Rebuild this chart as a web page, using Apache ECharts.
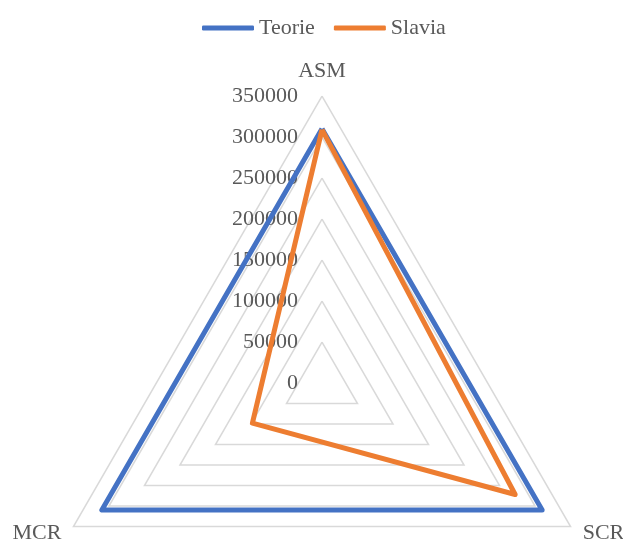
<!DOCTYPE html>
<html>
<head>
<meta charset="utf-8">
<script src="https://cdn.jsdelivr.net/npm/echarts@6/dist/echarts.min.js"></script>
<style>
html,body{margin:0;padding:0;background:#fff;}
#chart{width:623px;height:539px;}
</style>
</head>
<body>
<div id="chart"></div>
<script>
// Indicators listed counter-clockwise starting at the top (ECharts order)
const indicators = ['ASM', 'MCR', 'SCR'];
const teorie = [310000, 310000, 310000];
const slavia = [309000, 98000, 272000];
const seriesNames = ['Teorie', 'Slavia'];
const axisMax = 350000;
const axisSplits = 7;

const chart = echarts.init(document.getElementById('chart'), null, {renderer: 'canvas'});
const font = '"Liberation Serif", "Times New Roman", serif';
chart.setOption({
  backgroundColor: '#ffffff',
  animation: false,
  legend: {
    data: seriesNames,
    left: 197,
    top: 12,
    icon: 'roundRect',
    itemWidth: 52,
    itemHeight: 5,
    itemGap: 19,
    textStyle: {fontFamily: font, fontSize: 22, color: '#595959'}
  },
  radar: {
    center: [322, 383],
    radius: 287,
    startAngle: 90,
    shape: 'polygon',
    splitNumber: axisSplits,
    indicator: indicators.map((n, i) => i === 0
      ? {name: n, min: 0, max: axisMax}
      : {name: n, min: 0, max: axisMax, axisLabel: {show: false}}),
    axisName: {fontFamily: font, fontSize: 22, color: '#595959'},
    nameGap: 14,
    axisLine: {show: false},
    axisTick: {show: false},
    splitArea: {show: false},
    splitLine: {lineStyle: {color: '#D9D9D9', width: 1.5}},
    axisLabel: {show: true, fontFamily: font, fontSize: 22, color: '#595959', margin: 24,
      showMaxLabel: true, showMinLabel: true, formatter: v => String(v)}
  },
  series: [{
    type: 'radar',
    symbol: 'none',
    data: [
      {name: seriesNames[0], value: teorie, lineStyle: {color: '#4472C4', width: 5}, itemStyle: {color: '#4472C4'}},
      {name: seriesNames[1], value: slavia, lineStyle: {color: '#ED7D31', width: 5}, itemStyle: {color: '#ED7D31'}}
    ]
  }]
});
</script>
</body>
</html>
